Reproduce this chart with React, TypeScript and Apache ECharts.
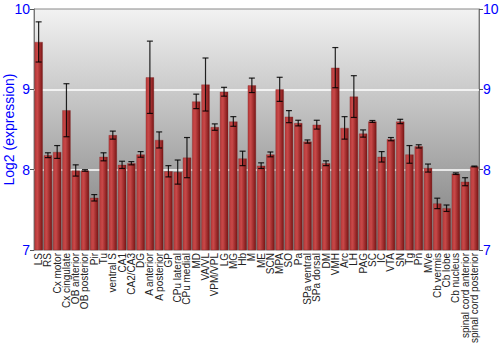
import React, { useEffect, useRef } from "react";
import * as echarts from "echarts";

const categories = ["LS", "RS", "Cx motor", "Cx cingulate", "OB anterior", "OB posterior", "Pir", "Tu", "ventral S", "CA1", "CA2/CA3", "DG", "A anterior", "A posterior", "GP", "CPu lateral", "CPu medial", "MD", "VA/VL", "VPM/VPL", "LG", "MG", "Hb", "M", "ME", "SCN", "MPA", "SO", "Pa", "SPa ventral", "SPa dorsal", "DM", "VMH", "Arc", "LH", "PAG", "SC", "IC", "VTA", "SN", "Tg", "Pn", "MVe", "Cb vermis", "Cb lobe", "Cb nucleus", "spinal cord anterior", "spinal cord posterior"];

const values = [9.59, 8.18, 8.22, 8.74, 7.99, 7.99, 7.65, 8.16, 8.43, 8.06, 8.08, 8.19, 9.15, 8.37, 7.98, 7.97, 8.15, 8.85, 9.06, 8.53, 8.97, 8.60, 8.14, 9.05, 8.05, 8.19, 9.00, 8.66, 8.58, 8.35, 8.56, 8.08, 9.27, 8.52, 8.91, 8.45, 8.60, 8.16, 8.38, 8.60, 8.19, 8.29, 8.02, 7.58, 7.52, 7.95, 7.85, 8.04];

const errors = [0.25, 0.03, 0.08, 0.33, 0.07, 0.01, 0.04, 0.05, 0.05, 0.045, 0.02, 0.035, 0.45, 0.1, 0.07, 0.15, 0.25, 0.09, 0.33, 0.04, 0.055, 0.06, 0.09, 0.09, 0.035, 0.03, 0.15, 0.075, 0.035, 0.02, 0.055, 0.03, 0.25, 0.14, 0.26, 0.045, 0.012, 0.065, 0.02, 0.027, 0.11, 0.02, 0.05, 0.065, 0.04, 0.01, 0.05, 0.005];

const yTicks = [7, 8, 9, 10];

export default function App() {
  const ref = useRef<HTMLDivElement>(null);
  useEffect(() => {
    const chart = echarts.init(ref.current!, null, { renderer: "svg" });
    const errData = values.map((v, i) => [i, v - errors[i], v + errors[i]]);
    const yAxisBase = {
      type: "value",
      min: yTicks[0],
      max: yTicks[yTicks.length - 1],
      interval: 1,
      axisLine: { show: true, lineStyle: { color: "#777" } },
      axisTick: { show: true, length: 4, lineStyle: { color: "#555" } },
      axisLabel: { color: "#0000ff", fontSize: 14, fontFamily: "Liberation Sans", margin: 4 },
      splitLine: { show: false },
    };
    chart.setOption({
      animation: false,
      grid: {
        left: 34,
        right: 21,
        top: 9,
        bottom: 100,
        outerBoundsMode: "none",
        containLabel: false,
        show: true,
        borderColor: "#888",
        borderWidth: 1,
        backgroundColor: new echarts.graphic.LinearGradient(0, 0, 0, 1, [
          { offset: 0, color: "#f2f2f2" },
          { offset: 1, color: "#7c7c7c" },
        ]),
      },
      xAxis: {
        type: "category",
        data: categories,
        axisLine: { show: false },
        axisTick: { show: false },
        axisLabel: {
          interval: 0,
          rotate: 90,
          fontSize: 10,
          color: "#222",
          margin: 3,
          fontFamily: "Liberation Sans",
        },
      },
      yAxis: [
        {
          ...yAxisBase,
          position: "left",
          name: "Log2 (expression)",
          nameLocation: "middle",
          nameGap: 18,
          nameMoveOverlap: false,
          nameTextStyle: { color: "#0000ff", fontSize: 14, fontFamily: "Liberation Sans" },
        },
        { ...yAxisBase, position: "right" },
      ],
      series: [
        {
          type: "bar",
          data: values,
          barCategoryGap: "10%",
          itemStyle: {
            color: new echarts.graphic.LinearGradient(0, 0, 1, 0, [
              { offset: 0, color: "#b83a3a" },
              { offset: 0.35, color: "#c84848" },
              { offset: 1, color: "#7a1515" },
            ]),
            borderColor: "rgba(120,30,30,0.6)",
            borderWidth: 0.5,
          },
          markLine: {
            silent: true,
            symbol: "none",
            label: { show: false },
            lineStyle: { color: "#ffffff", type: "solid", width: 1.5 },
            data: [{ yAxis: 8 }, { yAxis: 9 }],
            z: 1,
          },
        },
        {
          type: "custom",
          data: errData,
          z: 10,
          renderItem: (params: any, api: any) => {
            const x = api.value(0);
            const lo = api.coord([x, api.value(1)]);
            const hi = api.coord([x, api.value(2)]);
            const cap = 3;
            const style = { stroke: "rgba(0,0,0,0.85)", lineWidth: 1.2 };
            return {
              type: "group",
              children: [
                { type: "line", shape: { x1: lo[0], y1: lo[1], x2: hi[0], y2: hi[1] }, style },
                { type: "line", shape: { x1: lo[0] - cap, y1: lo[1], x2: lo[0] + cap, y2: lo[1] }, style },
                { type: "line", shape: { x1: hi[0] - cap, y1: hi[1], x2: hi[0] + cap, y2: hi[1] }, style },
              ],
            };
          },
        },
      ],
    });
    return () => chart.dispose();
  }, []);
  return <div ref={ref} style={{ width: 500, height: 350, position: "absolute", left: 0, top: 0 }} />;
}
